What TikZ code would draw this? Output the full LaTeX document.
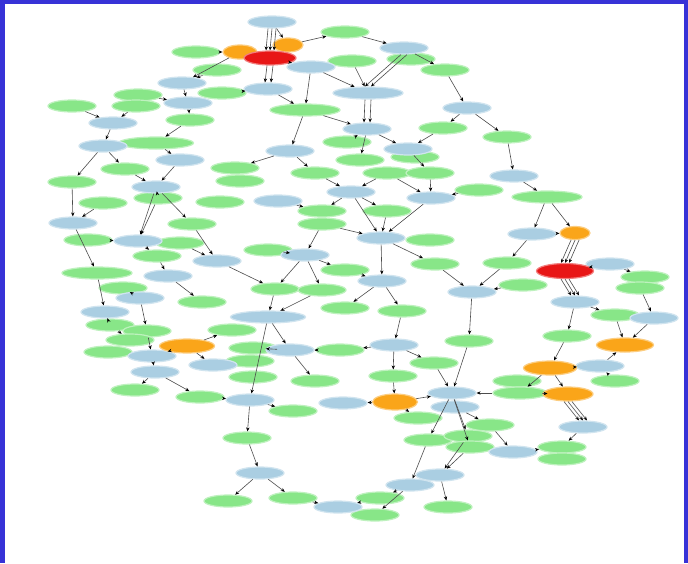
\documentclass[tikz,border=0pt]{standalone}
\usepackage{tikz}
\usetikzlibrary{shapes.geometric,arrows.meta}
\definecolor{GeneGreen}{RGB}{136,230,136}
\definecolor{GeneBlue}{RGB}{170,206,226}
\definecolor{GeneOrange}{RGB}{250,165,25}
\definecolor{GeneRed}{RGB}{232,22,22}
\definecolor{FrameBlue}{RGB}{55,50,215}
\tikzset{>=Stealth,
  gene/.style={ellipse,inner sep=0pt,minimum width=48pt,minimum height=12pt,line width=1.2pt},
  gn/.style={gene,fill=GeneGreen,draw=GeneGreen!55},
  bl/.style={gene,fill=GeneBlue,draw=GeneBlue!55},
  og/.style={gene,fill=GeneOrange,draw=GeneOrange!55},
  rd/.style={gene,fill=GeneRed,draw=GeneRed!55},
  link/.style={draw=black!70,line width=0.6pt,
    -{Stealth[length=4pt,width=3.4pt,black]}}}

\begin{document}
\begin{tikzpicture}[x=1pt,y=-1pt]
\useasboundingbox (0,0) rectangle (688,563);
% Frame
\fill[white] (0,0) rectangle (688,563);
\fill[FrameBlue] (0,0) rectangle (688,4);
\fill[FrameBlue] (0,0) rectangle (5,563);
\fill[FrameBlue] (684,0) rectangle (688,563);

% Green genes
\foreach \n/\x/\y in {g1/345/32,g2/196/52,g3/217/70,g4/138/95,g5/136/106,g6/72/106,
  g7/222/93,g8/352/61,g9/411/59,g10/445/70,g12/190/120,g13/443/128,g14/507/137,
  g16/347/142,g17/360/160,g18/415/157,g19/125/169,g20/235/168,g21/240/181,
  g23/315/173,g24/387/173,g25/430/173,g26/72/182,g27/479/190,g29/103/203,
  g30/158/198,g31/220/202,g32/387/211,g33/322/211,g34/322/224,g35/192/224,
  g36/430/240,g37/88/240,g38/180/243,g39/268/250,g40/157/256,g41/435/264,
  g42/507/263,g43/645/277,g44/640/288,g45/345/270,g47/523/285,g48/275/289,
  g49/322/290,g50/123/288,g51/202/302,g52/345/308,g53/402/311,g55/615/315,
  g57/110/325,g58/147/331,g59/232/330,g60/567/336,g61/130/340,g62/469/341,
  g63/253/348,g64/340/350,g66/108/352,g67/250/361,g68/434/363,g69/253/377,
  g70/393/376,g71/315/381,g72/517/381,g74/615/381,g75/135/390,g76/200/397,
  g77/293/411,g78/418/418,g79/490/425,g80/428/440,g81/468/436,g82/470/447,
  g83/247/438,g84/562/447,g85/562/459,g86/228/501,g87/293/498,g88/380/498,
  g89/375/515,g90/448/507}
  \node[gn] (\n) at (\x,\y) {};
\foreach \n/\x/\y/\w in {g11/305/110/70,g15/156/143/75,g28/547/197/70,
  g46/97/273/70,g73/520/393/54}
  \node[gn,minimum width=\w pt] (\n) at (\x,\y) {};

% Blue genes
\foreach \n/\x/\y in {b1/272/22,b2/311/67,b3/182/83,b4/268/89,b5/188/103,
  b6/404/48,b8/467/108,b9/113/123,b10/367/129,b11/103/146,b12/290/151,
  b13/408/149,b14/180/160,b15/514/176,b16/156/187,b17/351/192,b18/431/198,
  b19/278/201,b20/73/223,b21/532/234,b22/381/238,b23/138/241,b24/305/255,
  b25/217/261,b26/610/264,b27/168/276,b28/382/281,b29/472/292,b30/140/298,
  b31/575/302,b32/105/312,b33/654/318,b35/394/345,b36/290/350,b37/152/356,
  b38/213/365,b39/600/366,b40/155/372,b41/250/400,b42/343/403,b43/452/393,
  b44/455/407,b45/583/427,b46/513/452,b47/260/473,b48/440/475,b49/410/485,
  b50/338/507}
  \node[bl] (\n) at (\x,\y) {};
\node[bl,minimum width=70pt] (b7) at (368,93) {};
\node[bl,minimum width=75pt] (b34) at (268,317) {};

% Hubs
\node[og,minimum width=34pt,minimum height=14pt] (o1) at (240,52) {};
\node[og,minimum width=30pt,minimum height=14pt] (o2) at (288,45) {};
\node[og,minimum width=30pt,minimum height=13pt] (o4) at (575,233) {};
\node[og,minimum width=55pt,minimum height=14pt] (o5) at (187,346) {};
\node[og,minimum width=57pt,minimum height=14pt] (o6) at (625,345) {};
\node[og,minimum width=53pt,minimum height=14pt] (o7) at (550,368) {};
\node[og,minimum width=50pt,minimum height=14pt] (o8) at (568,394) {};
\node[og,minimum width=45pt,minimum height=16pt] (o9) at (395,402) {};
\node[rd,minimum width=52pt,minimum height=14pt] (r1) at (270,58) {};
\node[rd,minimum width=57pt,minimum height=15pt] (r2) at (565,271) {};

% Interactions
\foreach \a/\b in {b1/o2,g2/o1,o1/b3,g3/b3,o2/g1,r1/b2,b2/g11,
  b4/g11,b2/b7,g1/b6,g8/b7,b6/g10,g10/b8,b3/b5,g4/b5,b4/g7,b5/g12,
  g12/g15,g6/b9,g5/b9,b9/b11,b11/g19,b11/g26,g15/b14,b14/b16,g19/b16,
  g26/b20,g29/b20,b20/g46,b16/g30,b16/g35,g30/b23,b16/b23,g37/b23,b23/g40,
  g35/b25,g38/b25,b25/g48,g46/b32,b27/g51,g50/b30,b30/g58,g40/b27,
  g11/b10,g11/b12,b12/g23,b12/g20,b8/g13,b8/g14,g14/b15,b15/g28,
  g28/b21,g28/o4,b21/o4,b21/g42,b18/b22,g27/b18,g25/b18,g24/b18,
  b22/g41,b10/g17,b10/b13,g13/b13,b13/g25,g16/b10,g23/b17,g24/b17,b17/g33,
  b17/g32,b17/b22,b19/g33,g34/b22,g32/b22,g34/b24,b24/g39,b24/g45,b24/g48,
  b24/g49,b22/b28,g45/b28,b28/g52,b28/g53,g41/b29,g47/b29,g42/b29,b29/g62,
  g49/b34,g48/b34,b34/b36,b34/b41,b36/g71,g64/b36,g63/b36,b32/g57,g57/g61,
  g58/b37,b37/b40,b37/o5,o5/g59,o5/b38,b40/g75,b40/g76,g76/b41,b41/g77,
  b41/g83,g83/b47,b47/g86,b47/g87,g87/b50,g53/b35,b35/g64,b35/g68,b35/g70,
  g70/o9,o9/b42,o9/g78,o9/b43,g62/b43,g68/b43,b43/g80,b43/g81,b43/g82,
  b44/g79,g73/b43,g79/b46,g81/b48,g82/b48,g80/b49,b48/g90,b49/g88,b49/g89,
  g88/b50,b46/g84,b45/g84,o7/o8,o7/g73,o8/g73,b39/o7,b39/o6,g60/o7,
  b31/g60,b31/g55,g55/o6,b33/o6,g44/b33,b26/g43,r2/b26,g74/b39}
  \draw[link] (\a) -- (\b);

% Parallel interactions
\foreach \s in {-4,0,4} {
  \draw[link] ([xshift=\s pt]b1.south) -- ([xshift=\s pt]r1.north);
  \draw[link] ([xshift=\s pt]o4.south) -- ([xshift=\s pt]r2.north);
  \draw[link] ([xshift=\s pt]r2.south) -- ([xshift=\s pt]b31.north);
  \draw[link] ([xshift=\s pt]o8.south) -- ([xshift=\s pt]b45.north);
}
\foreach \s in {-3,3} {
  \draw[link] ([xshift=\s pt]r1.south) -- ([xshift=\s pt]b4.north);
  \draw[link] ([xshift=\s pt]b6.south) -- ([xshift=\s pt]b7.north);
  \draw[link] ([xshift=\s pt]b7.south) -- ([xshift=\s pt]b10.north);
}
\end{tikzpicture}
\end{document}
